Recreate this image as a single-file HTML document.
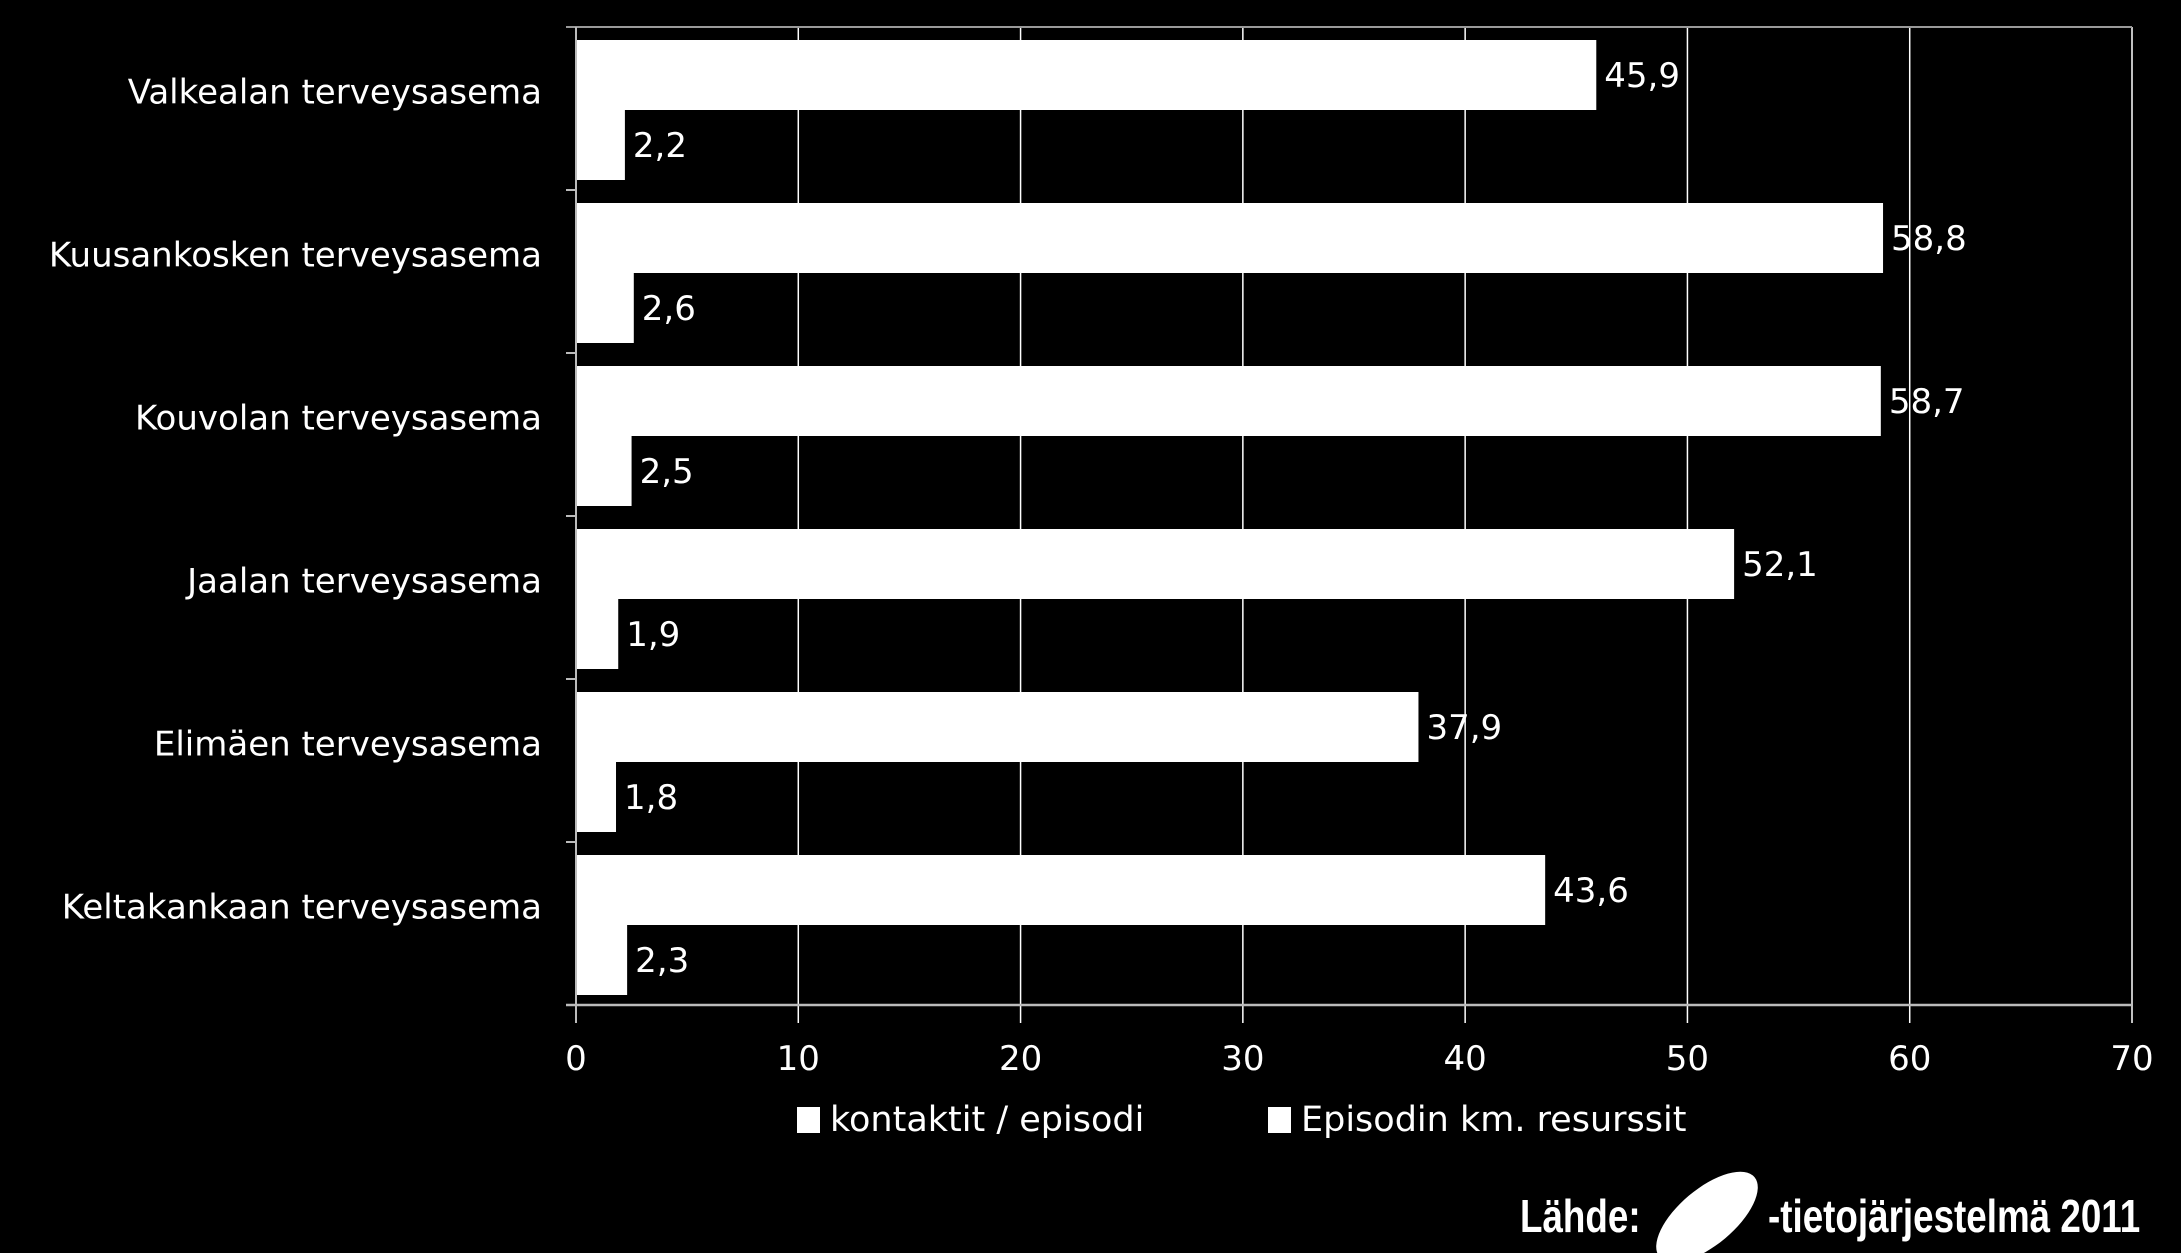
<!DOCTYPE html>
<html><head><meta charset="utf-8"><style>
html,body{margin:0;padding:0;background:#000;}
svg{display:block;}
text{font-family:"DejaVu Sans","Liberation Sans",sans-serif;fill:#fff;}
</style></head><body>
<svg id="chart" width="2181" height="1253" viewBox="0 0 2181 1253" xmlns="http://www.w3.org/2000/svg">
<rect width="2181" height="1253" fill="#000"/>
<g id="grid"></g>
<g id="bars"></g>
<g id="axes"></g>
<g>
<rect x="797" y="1107" width="23" height="26" fill="#fff"/>
<text x="830" y="1131" font-size="35">kontaktit / episodi</text>
<rect x="1268" y="1107" width="23" height="26" fill="#fff"/>
<text x="1301" y="1131" font-size="35">Episodin km. resurssit</text>
</g>
<g>
<text x="1520" y="1232" font-size="46" font-weight="bold" style="font-family:'Liberation Sans',sans-serif" transform="translate(1520 0) scale(0.8 1) translate(-1520 0)">Lähde:</text>
<ellipse cx="1707" cy="1217" rx="62" ry="28" transform="rotate(-40 1707 1217)" fill="#fff"/>
<text x="1768" y="1232" font-size="46" font-weight="bold" style="font-family:'Liberation Sans',sans-serif" transform="translate(1768 0) scale(0.8 1) translate(-1768 0)">-tietojärjestelmä 2011</text>
</g>
</svg>
<script>
const categories = ["Valkealan terveysasema","Kuusankosken terveysasema","Kouvolan terveysasema","Jaalan terveysasema","Elimäen terveysasema","Keltakankaan terveysasema"];
const kontaktit = [45.9, 58.8, 58.7, 52.1, 37.9, 43.6];
const resurssit = [2.2, 2.6, 2.5, 1.9, 1.8, 2.3];
const xTicks = [0,10,20,30,40,50,60,70];
const valueLabels1 = ["45,9","58,8","58,7","52,1","37,9","43,6"];
const valueLabels2 = ["2,2","2,6","2,5","1,9","1,8","2,3"];

const NS="http://www.w3.org/2000/svg";
const X0=576, X1=2132, Y0=27, Y1=1005, XMAX=70;
const xs=v=>X0+(X1-X0)*v/XMAX;
const band=(Y1-Y0)/categories.length;
const yb=i=>Y0+band*i;
function mk(tag,attrs,parent){const e=document.createElementNS(NS,tag);for(const k in attrs)e.setAttribute(k,attrs[k]);parent.appendChild(e);return e;}
const gridG=document.getElementById('grid'),barsG=document.getElementById('bars'),axesG=document.getElementById('axes');
xTicks.forEach((t,i)=>{
  if(t>0){const l=mk('line',{x1:xs(t),x2:xs(t),y1:Y0,y2:Y1+18,stroke:'#fff','stroke-width':1.5},gridG);
  
  }
  const tx=mk('text',{x:xs(t),y:1070,'font-size':34,'text-anchor':'middle'},axesG);
  tx.textContent=t;
  
  
});
const topBorder=mk('line',{x1:X0-10,x2:X1,y1:Y0,y2:Y0,stroke:'#999','stroke-width':2},axesG);


const xAxisLine=mk('line',{x1:X0-10,x2:X1,y1:Y1,y2:Y1,stroke:'#bbb','stroke-width':2.5},axesG);


const yAxisLine=mk('line',{x1:X0,x2:X0,y1:Y0,y2:Y1+18,stroke:'#bbb','stroke-width':2},axesG);


categories.forEach((c,i)=>{
  const b=yb(i);
  const tk=mk('line',{x1:X0-10,x2:X0,y1:b+band,y2:b+band,stroke:'#bbb','stroke-width':2},axesG);
  
  
  const h=70, t1=b+13, t2=t1+h;
  const r1=mk('rect',{x:X0,y:t1,width:xs(kontaktit[i])-X0,height:h,fill:'#fff'},barsG);
  
  
  const r2=mk('rect',{x:X0,y:t2,width:xs(resurssit[i])-X0,height:h,fill:'#fff'},barsG);
  
  
  const l1=mk('text',{x:xs(kontaktit[i])+8,y:t1+h/2+12,'font-size':34},barsG);
  l1.textContent=valueLabels1[i];
  
  
  const l2=mk('text',{x:xs(resurssit[i])+8,y:t2+h/2+12,'font-size':34},barsG);
  l2.textContent=valueLabels2[i];
  
  
  const cl=mk('text',{x:542,y:b+band/2-5,'font-size':34,'text-anchor':'end'},axesG);
  cl.textContent=c;
  
  
});
</script>
</body></html>
